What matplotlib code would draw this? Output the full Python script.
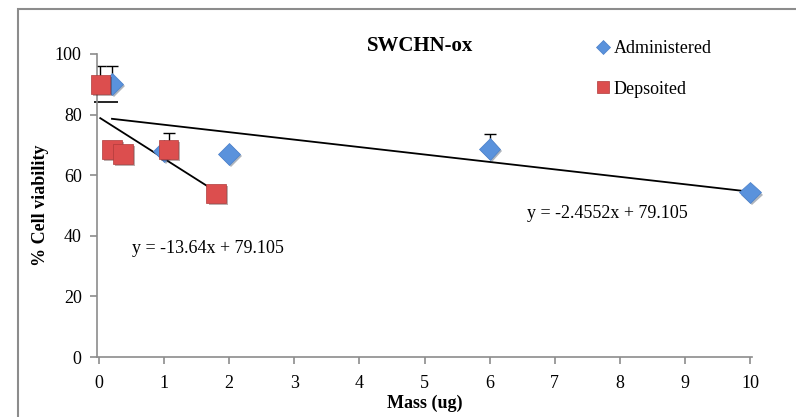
import matplotlib
matplotlib.use("Agg")
import matplotlib.pyplot as plt
import matplotlib.patheffects as pe
import numpy as np
from matplotlib.patches import Rectangle

plt.rcParams['font.family'] = ['Liberation Serif', 'DejaVu Serif']

# Data
adm_x = [0.2, 1.0, 2.0, 6.0, 10.0]
adm_y = [90.0, 68.0, 67.0, 68.7, 54.3]
adm_err_lo = [6.0, 0.0, 0.0, 0.0, 0.0]
adm_err_hi = [6.0, 0.0, 0.0, 5.0, 0.0]

dep_x = [0.02, 0.2, 0.37, 1.07, 1.8]
dep_y = [90.0, 68.5, 67.0, 68.5, 54.0]
dep_err_lo = [6.0, 0.0, 0.0, 0.0, 0.0]
dep_err_hi = [6.0, 0.0, 0.0, 5.5, 0.0]

adm_slope, adm_icpt = -2.4552, 79.105
dep_slope, dep_icpt = -13.64, 79.105

x_ticks = list(range(0, 11))
y_ticks = [0, 20, 40, 60, 80, 100]

fig = plt.figure(figsize=(7.96, 4.17), dpi=100)
# outer chart frame
fig.patches.append(Rectangle((18/796, -0.1), 1.0, 1 - 9/417 + 0.1, transform=fig.transFigure,
                             fill=False, edgecolor='#8c8c8c', linewidth=1.5))
ax = fig.add_axes([97/796, 1 - 357/417, (752 - 97)/796, (357 - 54)/417])

blue = '#5a92dc'
red = '#dc4e4e'
shadow = [pe.SimplePatchShadow(offset=(1.5, -1.5), alpha=0.35), pe.Normal()]

def draw_errors(xs, ys, lo, hi):
    ax.errorbar(xs, ys, yerr=[[0]*len(xs), hi], fmt='none', ecolor='black',
                elinewidth=1, capsize=4, capthick=1, zorder=2)
    xl = [x for x, l in zip(xs, lo) if l > 0]
    yl = [y - l for y, l in zip(ys, lo) if l > 0]
    ax.plot(xl, yl, linestyle='none', marker='_', markersize=9, markeredgewidth=1.2,
            color='black', zorder=2, clip_on=False)

draw_errors(adm_x, adm_y, adm_err_lo, adm_err_hi)
draw_errors(dep_x, dep_y, dep_err_lo, dep_err_hi)

ax.plot(adm_x, adm_y, linestyle='none', marker='D', markersize=11, color=blue,
        markeredgecolor='#4a7fc8', markeredgewidth=0.5, zorder=4, path_effects=shadow,
        clip_on=False)
ax.plot(dep_x, dep_y, linestyle='none', marker='s', markersize=14, color=red,
        markeredgecolor='#b03a3a', markeredgewidth=0.5, zorder=5, path_effects=shadow,
        clip_on=False)

# legend proxies (no shadow)
ax.plot([], [], linestyle='none', marker='D', markersize=7, color=blue,
        markeredgecolor='#4a7fc8', markeredgewidth=0.5, label='Administered')
ax.plot([], [], linestyle='none', marker='s', markersize=9, color=red,
        markeredgecolor='#b03a3a', markeredgewidth=0.5, label='Depsoited')

xa = np.array([min(adm_x), max(adm_x)])
ax.plot(xa, adm_slope * xa + adm_icpt, color='black', linewidth=1.3, zorder=3)
xd = np.array([min(dep_x), max(dep_x)])
ax.plot(xd, dep_slope * xd + dep_icpt, color='black', linewidth=1.3, zorder=3)

ax.text(0.5, 35.8, 'y = -13.64x + 79.105', fontsize=13, ha='left', va='center')
ax.text(6.58, 47.2, 'y = -2.4552x + 79.105', fontsize=13, ha='left', va='center')

ax.set_xlim(-0.03, 10.03)
ax.set_ylim(0, 100)
ax.set_xticks(x_ticks)
ax.set_yticks(y_ticks)
ax.tick_params(axis='both', labelsize=13, color='#8c8c8c', length=5, width=1.2, direction='out')
ax.tick_params(axis='x', pad=8)
ax.tick_params(axis='y', pad=6)
for s in ['top', 'right']:
    ax.spines[s].set_visible(False)
for s in ['left', 'bottom']:
    ax.spines[s].set_color('#8c8c8c')
    ax.spines[s].set_linewidth(1.2)

ax.set_xlabel('Mass (ug)', fontsize=13, fontweight='bold', labelpad=2)
ax.set_ylabel('% Cell viability', fontsize=13, fontweight='bold', labelpad=4)
fig.text(420/796, 1 - 46/417, 'SWCHN-ox', fontsize=15, fontweight='bold', ha='center', va='center')

leg = ax.legend(loc='upper left', bbox_to_anchor=(590/796, 1 - 33/417), bbox_transform=fig.transFigure,
                frameon=False, fontsize=13, handlelength=0.6, handletextpad=0.3, labelspacing=1.3,
                borderaxespad=0)

fig.savefig('out.png', dpi=100)
